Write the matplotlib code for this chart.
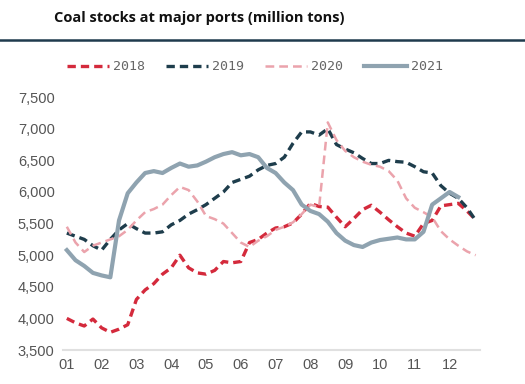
import numpy as np
import matplotlib.pyplot as plt
from matplotlib.lines import Line2D

# weekly-ish readings, x in months from start of year (01 = 0)
months = ['01', '02', '03', '04', '05', '06', '07', '08', '09', '10', '11', '12']
yTicks = [3500, 4000, 4500, 5000, 5500, 6000, 6500, 7000, 7500]

stocks2018 = [4000, 3930, 3880, 3990, 3850, 3780, 3830, 3900, 4300, 4450, 4550, 4700,
              4800, 5000, 4800, 4720, 4700, 4760, 4900, 4880, 4900, 5200, 5250, 5350,
              5430, 5450, 5510, 5650, 5820, 5770, 5760, 5600, 5450, 5580, 5720, 5790,
              5680, 5560, 5450, 5350, 5300, 5500, 5550, 5780, 5800, 5820, 5700, 5560]
stocks2019 = [5350, 5300, 5250, 5150, 5080, 5250, 5400, 5500, 5420, 5350, 5350, 5370,
              5480, 5550, 5650, 5720, 5800, 5900, 6000, 6150, 6200, 6250, 6350, 6420,
              6450, 6550, 6770, 6950, 6950, 6900, 7000, 6750, 6680, 6620, 6530, 6450,
              6450, 6500, 6480, 6470, 6400, 6320, 6300, 6100, 5980, 5900, 5750, 5550]
stocks2020 = [5450, 5200, 5050, 5150, 5200, 5250, 5300, 5400, 5550, 5680, 5730, 5800,
              5950, 6080, 6030, 5850, 5620, 5570, 5500, 5350, 5200, 5130, 5230, 5300,
              5400, 5450, 5520, 5650, 5800, 5760, 7100, 6820, 6650, 6550, 6480, 6430,
              6400, 6330, 6180, 5900, 5750, 5680, 5600, 5380, 5250, 5150, 5060, 5000]
stocks2021 = [5080, 4920, 4830, 4720, 4680, 4650, 5550, 5980, 6150, 6300, 6330, 6300,
              6380, 6450, 6400, 6420, 6480, 6550, 6600, 6630, 6580, 6600, 6550, 6380,
              6300, 6150, 6030, 5800, 5700, 5650, 5530, 5350, 5230, 5160, 5130, 5200,
              5240, 5260, 5280, 5250, 5250, 5370, 5800, 5900, 6000, 5920]

t = np.arange(len(stocks2018)) * 0.25
t21 = np.arange(len(stocks2021)) * 0.25

fig = plt.figure(figsize=(5.25, 3.84), dpi=100)
ax = fig.add_axes([0.12, 0.0885, 0.794, 0.6585])

ax.plot(t, stocks2018, color='#d42a3c', lw=2.4, ls=(0, (2.5, 1.5)), label='2018')
ax.plot(t, stocks2019, color='#1e3d4c', lw=2.4, ls=(0, (2.5, 1.5)), label='2019')
ax.plot(t, stocks2020, color='#eba3ac', lw=1.8, ls=(0, (3.5, 2)), label='2020')
ax.plot(t21, stocks2021, color='#8fa3b0', lw=3, label='2021')

ax.set_xlim(-0.11, 11.87)
ax.set_ylim(3500, 7500)
ax.set_xticks(range(12))
ax.set_xticklabels(months)
ax.set_yticks(yTicks)
ax.set_yticklabels(['{:,}'.format(v) for v in yTicks])
ax.tick_params(length=0, labelsize=10.5, labelcolor='#555555', pad=6)
for lab in ax.get_xticklabels() + ax.get_yticklabels():
    lab.set_family('Liberation Sans')
for s in ['top', 'right', 'left']:
    ax.spines[s].set_visible(False)
ax.spines['bottom'].set_color('#e0e0e0')
ax.spines['bottom'].set_linewidth(1.5)

leg = fig.legend(loc='center', bbox_to_anchor=(0.485, 0.826), ncol=4, frameon=False,
                 handlelength=3.2, columnspacing=1.6, handletextpad=0.3,
                 prop={'family': 'DejaVu Sans Mono', 'size': 9.5})
for txt in leg.get_texts():
    txt.set_color('#666666')

fig.text(0.103, 0.953, 'Coal stocks at major ports (million tons)', fontsize=10.5,
         fontweight='bold', color='#111111', va='center', family='Open Sans')
fig.add_artist(Line2D([0, 1], [0.896, 0.896], color='#1f3b4d', lw=1.8))

fig.savefig('out.png', dpi=100, facecolor='white')
